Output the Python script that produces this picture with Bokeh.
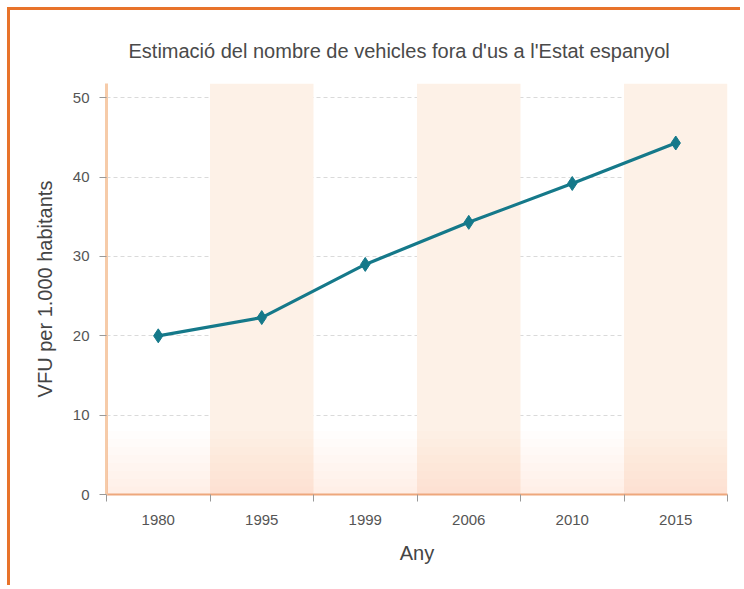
from bokeh.plotting import figure
from bokeh.models import FixedTicker, Range1d, BoxAnnotation
from bokeh.embed import file_html
from bokeh.resources import INLINE

# ---- data ----
years = ["1980", "1995", "1999", "2006", "2010", "2015"]
vfu = [20.0, 22.3, 29.0, 34.3, 39.2, 44.3]
y_ticks = [0, 10, 20, 30, 40, 50]

title = "Estimació del nombre de vehicles fora d'us a l'Estat espanyol"
x_label = "Any"
y_label = "VFU per 1.000 habitants"

n = len(years)
xs = list(range(n))
y_top = 51.8

FONT = "Liberation Sans"

p = figure(width=733, height=578, output_backend="svg", toolbar_location=None,
           x_range=Range1d(-0.5, n - 0.5), y_range=Range1d(0, y_top),
           min_border_left=96, min_border_right=16, min_border_top=73, min_border_bottom=94,
           title=title)
p.styles = {"border-left": "3px solid #e8732a", "border-top": "3px solid #e8732a",
            "margin-left": "7px", "margin-top": "7px"}
p.background_fill_color = "white"
p.border_fill_color = "white"
p.outline_line_color = None

# alternating column bands
p.vbar(x=xs[1::2], width=1, bottom=0, top=y_top, fill_color="#fdf1e7", line_color=None)

# soft gradient near the base
for k in range(1, 9):
    p.add_layout(BoxAnnotation(bottom=0, top=k, fill_color="#f6c39c", fill_alpha=0.028,
                               line_color=None))

# title
p.title.align = "left"
p.title.text_font = FONT
p.title.text_font_size = "20px"
p.title.text_font_style = "normal"
p.title.text_color = "#4a4a4a"
p.title.offset = 22
p.title.standoff = 43

# grid
p.xgrid.grid_line_color = None
p.ygrid.grid_line_color = "#dadada"
p.ygrid.grid_line_dash = "4 3"
p.ygrid.grid_line_width = 1

# x axis
xa = p.xaxis[0]
xa.ticker = FixedTicker(ticks=xs, minor_ticks=[i - 0.5 for i in range(n + 1)])
xa.major_label_overrides = {i: yr for i, yr in enumerate(years)}
xa.major_tick_out = 0
xa.major_tick_in = 0
xa.minor_tick_out = 7
xa.minor_tick_in = 0
xa.minor_tick_line_color = "#999999"
xa.axis_line_color = "#eea77c"
xa.axis_line_width = 2
xa.major_label_standoff = 13
xa.major_label_text_font = FONT
xa.major_label_text_font_size = "15px"
xa.major_label_text_color = "#555555"
xa.axis_label = x_label
xa.axis_label_standoff = 14
xa.axis_label_text_font = FONT
xa.axis_label_text_font_size = "20px"
xa.axis_label_text_font_style = "normal"
xa.axis_label_text_color = "#444444"

# y axis
ya = p.yaxis[0]
ya.ticker = FixedTicker(ticks=y_ticks)
ya.major_tick_out = 7
ya.major_tick_in = 0
ya.major_tick_line_color = "#999999"
ya.minor_tick_line_color = None
ya.axis_line_color = "#f6cba9"
ya.axis_line_width = 3
ya.major_label_standoff = 10
ya.major_label_text_font = FONT
ya.major_label_text_font_size = "15px"
ya.major_label_text_color = "#555555"
ya.axis_label = y_label
ya.axis_label_standoff = 14
ya.axis_label_text_font = FONT
ya.axis_label_text_font_size = "20px"
ya.axis_label_text_font_style = "normal"
ya.axis_label_text_color = "#444444"

# series
p.line(xs, vfu, line_color="#15798a", line_width=3.2)
p.scatter(xs, vfu, marker="diamond", size=14, fill_color="#15798a", line_color="#15798a")

open("out.html", "w").write(file_html(p, INLINE))
